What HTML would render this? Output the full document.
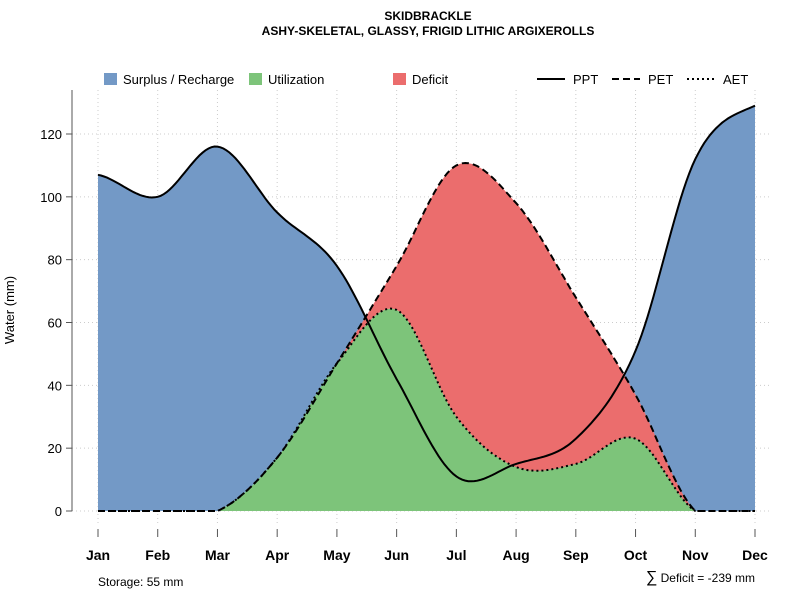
<!DOCTYPE html>
<html><head><meta charset="utf-8"><style>
body{margin:0;background:#fff;}
svg{font-family:"Liberation Sans",sans-serif;}
</style></head><body>
<svg id="c" width="800" height="600">
<text x="428" y="20" text-anchor="middle" font-size="12" font-weight="bold">SKIDBRACKLE</text>
<text x="428" y="35" text-anchor="middle" font-size="12" font-weight="bold">ASHY-SKELETAL, GLASSY, FRIGID LITHIC ARGIXEROLLS</text>
<g id="grid"></g><g id="areas"></g><g id="lines"></g><g id="axes"></g>
<text transform="translate(14,310) rotate(-90)" text-anchor="middle" font-size="13">Water (mm)</text>
<text x="98" y="586" font-size="12">Storage: 55 mm</text>
<text x="755" y="582" text-anchor="end" font-size="12"><tspan font-size="16">∑</tspan> Deficit = -239 mm</text>
<g>
<rect x="104" y="73" width="13" height="12" fill="#7399c6"/>
<text x="123" y="84" font-size="13">Surplus / Recharge</text>
<rect x="249" y="73" width="13" height="12" fill="#7dc47a"/>
<text x="268" y="84" font-size="13">Utilization</text>
<rect x="393" y="73" width="13" height="12" fill="#eb6d6d"/>
<text x="412" y="84" font-size="13">Deficit</text>
<line x1="537" y1="79" x2="565" y2="79" stroke="#000" stroke-width="2"/>
<text x="573" y="84" font-size="13">PPT</text>
<line x1="612" y1="79" x2="640" y2="79" stroke="#000" stroke-width="2" stroke-dasharray="7,4"/>
<text x="648" y="84" font-size="13">PET</text>
<line x1="687" y1="79" x2="715" y2="79" stroke="#000" stroke-width="2" stroke-dasharray="2,3"/>
<text x="723" y="84" font-size="13">AET</text>
</g>
</svg>
<script>
const months=["Jan","Feb","Mar","Apr","May","Jun","Jul","Aug","Sep","Oct","Nov","Dec"];
const ppt=[107,100,116,95,78,42,11,15,23,51,112,129];
const pet=[0,0,0,17,47,78,110,98,68,37,0,0];
const aet=[0,0,0,17,47,64,30,14,15,23,0,0];
const yTicks=[0,20,40,60,80,100,120];
const NS="http://www.w3.org/2000/svg";
const X=i=>98+i*(755-98)/11;
const Y=v=>511-v*(511-134)/120;
function mk(t,a,p){const e=document.createElementNS(NS,t);for(const k in a)e.setAttribute(k,a[k]);p.appendChild(e);return e;}
function spline(arr){const pts=[];const n=arr.length;
 for(let i=0;i<n-1;i++){const p0=arr[Math.max(i-1,0)],p1=arr[i],p2=arr[i+1],p3=arr[Math.min(i+2,n-1)];
  for(let s=0;s<20;s++){const t=s/20,t2=t*t,t3=t2*t;
   const v=0.5*((2*p1)+(-p0+p2)*t+(2*p0-5*p1+4*p2-p3)*t2+(-p0+3*p1-3*p2+p3)*t3);
   pts.push([i+t,Math.max(v,0)]);}}
 pts.push([n-1,arr[n-1]]);return pts;}
const sp=spline(ppt),se=spline(pet),sa=spline(aet);
const G=document.getElementById('grid'),A=document.getElementById('areas'),L=document.getElementById('lines'),AX=document.getElementById('axes');
yTicks.forEach(v=>{const l=mk('line',{x1:72,x2:770,y1:Y(v),y2:Y(v),stroke:'#ccc','stroke-dasharray':'1,3'},G);
 });
months.forEach((m,i)=>{const l=mk('line',{x1:X(i),x2:X(i),y1:90,y2:524,stroke:'#ccc','stroke-dasharray':'1,3'},G);
 });
function band(lo,hi,fill,name){let d='M'+hi.map(p=>X(p[0]).toFixed(1)+','+Y(p[1]).toFixed(1)).join('L');
 d+='L'+lo.slice().reverse().map(p=>X(p[0]).toFixed(1)+','+Y(p[1]).toFixed(1)).join('L')+'Z';
 const e=mk('path',{d:d,fill:fill},A);}
const zero=sp.map(p=>[p[0],0]);
band(zero,sp,'#7399c6','surplus-area');
band(zero,sa,'#7dc47a','utilization-area');
band(sa,se.map((p,k)=>[p[0],Math.max(p[1],sa[k][1])]),'#eb6d6d','deficit-area');
function line(s,dash,name){const e=mk('path',{d:'M'+s.map(p=>X(p[0]).toFixed(1)+','+Y(p[1]).toFixed(1)).join('L'),fill:'none',stroke:'#000','stroke-width':2,'stroke-dasharray':dash},L);
 }
line(sp,'none','ppt-line');line(se,'7,4','pet-line');line(sa,'2,3','aet-line');
const ya=mk('line',{x1:72,x2:72,y1:90,y2:511,stroke:'#555'},AX);
yTicks.forEach(v=>{mk('line',{x1:66,x2:72,y1:Y(v),y2:Y(v),stroke:'#555'},AX);
 const t=mk('text',{x:62,y:Y(v)+5,'text-anchor':'end','font-size':13},AX);t.textContent=v;
 });
months.forEach((m,i)=>{mk('line',{x1:X(i),x2:X(i),y1:529,y2:537,stroke:'#555'},AX);
 const t=mk('text',{x:X(i),y:560,'text-anchor':'middle','font-size':14,'font-weight':'bold'},AX);t.textContent=m;
 });
</script>
</body></html>
